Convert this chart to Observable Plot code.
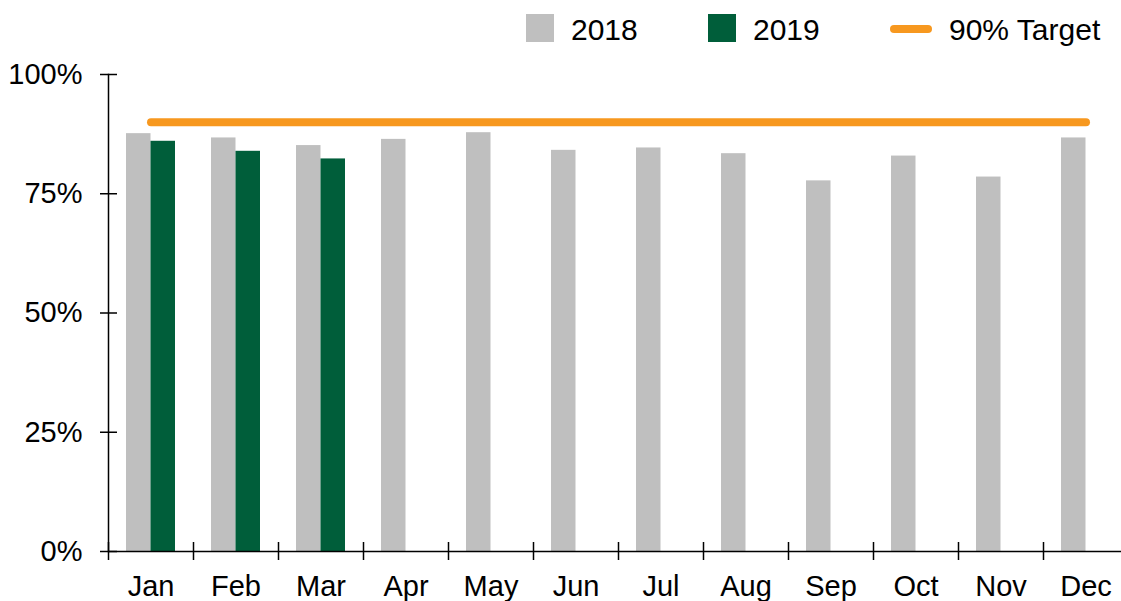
<!DOCTYPE html>
<html><head><meta charset="utf-8">
<script src="https://cdn.jsdelivr.net/npm/d3@7"></script>
<script src="https://cdn.jsdelivr.net/npm/@observablehq/plot@0.6"></script>
<style>
html,body{margin:0;padding:0;background:#fff;overflow:hidden;}
#wrap{position:relative;width:1121px;height:601px;font-family:"Liberation Sans",Arial,sans-serif;}
#chart{position:absolute;left:0;top:0;}
.sw{position:absolute;}
.lt{position:absolute;font-size:30px;line-height:30px;color:#000;white-space:nowrap;}
</style></head><body>
<div id="wrap"><div id="chart"></div><div id="legend"></div></div>
<script>
// ---- data ----
const months = ["Jan","Feb","Mar","Apr","May","Jun","Jul","Aug","Sep","Oct","Nov","Dec"];
const values2018 = [87.6, 86.7, 85.1, 86.4, 87.8, 84.1, 84.6, 83.4, 77.7, 82.9, 78.5, 86.7];
const values2019 = [86.0, 83.9, 82.3];
const targetValue = 90;
const yTicks = [0, 25, 50, 75, 100];
const seriesNames = ["2018", "2019", "90% Target"];

// ---- style ----
const C18 = "#BFBFBF", C19 = "#005E3A", CT = "#F7981F";

const d18 = months.map((m, i) => ({month: m, value: values2018[i]}));
const d19 = values2019.map((v, i) => ({month: months[i], value: v}));
const dT = months.map(m => ({month: m, value: targetValue}));

const chart = Plot.plot({
  width: 1121, height: 601,
  marginTop: 74, marginBottom: 50, marginLeft: 108, marginRight: 0,
  style: {fontFamily: "'Liberation Sans', Arial, sans-serif", fontSize: "29px", color: "#000", background: "transparent", overflow: "visible"},
  x: {type: "band", domain: months, range: [108, 1128], padding: 0, label: null},
  y: {domain: [0, 100], label: null},
  marks: [
    Plot.barY(d18, {x: "month", y: "value", fill: C18, insetLeft: 18, insetRight: 42.5}),
    Plot.barY(d19, {x: "month", y: "value", fill: C19, insetLeft: 42.5, insetRight: 18}),
    Plot.lineY(dT, {x: "month", y: "value", stroke: CT, strokeWidth: 8, strokeLinecap: "round"}),
    Plot.ruleY([0], {stroke: "#000", strokeWidth: 1.5}),
    Plot.frame({anchor: "left", stroke: "#000", strokeWidth: 1.5}),
    Plot.axisY(yTicks, {tickSize: 0, tickPadding: 26, tickFormat: d => d + "%", fontSize: 29, label: null}),
    Plot.axisY(yTicks, {tickSize: 17, dx: 9, tickFormat: () => "", strokeWidth: 1.5, label: null}),
    Plot.axisX({tickSize: 0, tickPadding: 24, fontSize: 29, label: null}),
    Plot.axisX({tickSize: 18, dx: -42.5, dy: -9, tickFormat: () => "", strokeWidth: 1.5, label: null})
  ]
});
document.getElementById("chart").appendChild(chart);

// ---- legend (HTML) ----
const legendLayout = [
  {type: "square", color: C18, swLeft: 526, textLeft: 571},
  {type: "square", color: C19, swLeft: 708, textLeft: 753},
  {type: "line", color: CT, swLeft: 890, textLeft: 949}
];
const lg = document.getElementById("legend");
seriesNames.forEach((name, i) => {
  const L = legendLayout[i];
  const sw = document.createElement("div");
  sw.className = "sw";
  sw.style.background = L.color;
  if (L.type === "square") {
    Object.assign(sw.style, {left: L.swLeft + "px", top: "14px", width: "28px", height: "28px"});
  } else {
    Object.assign(sw.style, {left: L.swLeft + "px", top: "25px", width: "42px", height: "8px", borderRadius: "4px"});
  }
  lg.appendChild(sw);
  const t = document.createElement("div");
  t.className = "lt";
  t.textContent = name;
  Object.assign(t.style, {left: L.textLeft + "px", top: "15px"});
  lg.appendChild(t);
});
</script>
</body></html>
